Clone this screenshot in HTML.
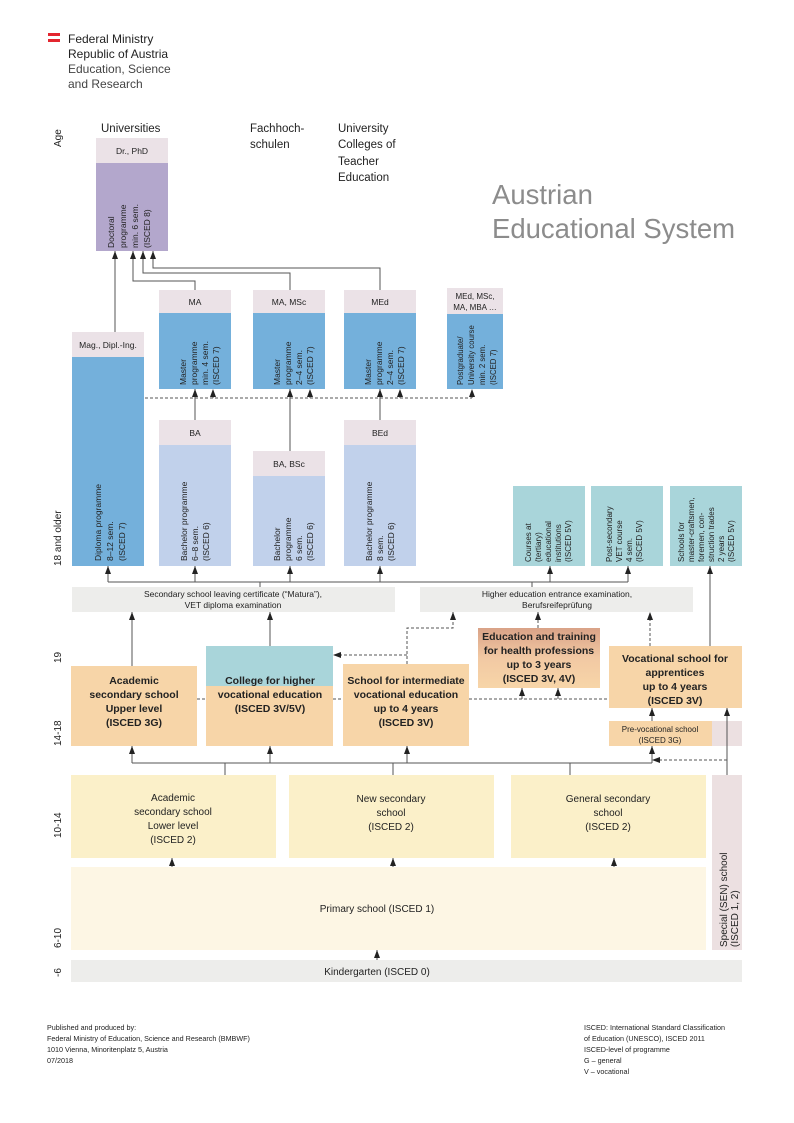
<!DOCTYPE html>
<html><head><meta charset="utf-8"><style>
html,body{margin:0;padding:0;background:#fff;}
svg{display:block;}
text{font-family:"Liberation Sans Narrow","Liberation Sans",sans-serif;fill:#222;}
.s{font-size:8.5px;}
.m{font-size:10px;}
.b{font-size:10.5px;font-weight:bold;}
</style></head><body>
<svg width="794" height="1123" viewBox="0 0 794 1123" xmlns="http://www.w3.org/2000/svg">
<defs>
<marker id="a" markerWidth="8" markerHeight="6" refX="8" refY="3" orient="auto" markerUnits="userSpaceOnUse" viewBox="0 0 8 6"><path d="M0,0 L8,3 L0,6 Z" fill="#222"/></marker>
<linearGradient id="hg" x1="0" y1="0" x2="0" y2="1"><stop offset="0" stop-color="#d9a287"/><stop offset="0.5" stop-color="#f2c9a3"/><stop offset="1" stop-color="#f7d5a8"/></linearGradient>
</defs>

<!-- logo -->
<rect x="48" y="33" width="12" height="3" fill="#e3262f"/>
<rect x="48" y="39" width="12" height="3" fill="#e3262f"/>
<text x="68" y="43" style="font-size:12px;">Federal Ministry</text>
<text x="68" y="58" style="font-size:12px;">Republic of Austria</text>
<text x="68" y="73" style="font-size:12px;fill:#444">Education, Science</text>
<text x="68" y="88" style="font-size:12px;fill:#444">and Research</text>

<!-- headings -->
<text transform="translate(61,147) rotate(-90)" class="m">Age</text>
<text x="101" y="132" style="font-size:11.5px">Universities</text>
<text x="250" y="132" style="font-size:11.5px">Fachhoch-</text>
<text x="250" y="148" style="font-size:11.5px">schulen</text>
<text x="338" y="132" style="font-size:11.5px">University</text>
<text x="338" y="148" style="font-size:11.5px">Colleges of</text>
<text x="338" y="165" style="font-size:11.5px">Teacher</text>
<text x="338" y="181" style="font-size:11.5px">Education</text>
<text x="492" y="204" style="font-size:27.5px;fill:#8c8c8c">Austrian</text>
<text x="492" y="238" style="font-size:27.5px;fill:#8c8c8c">Educational System</text>

<!-- age labels -->
<text transform="translate(61,566) rotate(-90)" class="m">18 and older</text>
<text transform="translate(61,663) rotate(-90)" class="m">19</text>
<text transform="translate(61,746) rotate(-90)" class="m">14-18</text>
<text transform="translate(61,838) rotate(-90)" class="m">10-14</text>
<text transform="translate(61,948) rotate(-90)" class="m">6-10</text>
<text transform="translate(61,977) rotate(-90)" class="m">-6</text>

<!-- Doctoral -->
<rect x="96" y="138" width="72" height="25" fill="#ebe2e7"/>
<rect x="96" y="163" width="72" height="88" fill="#b3a7cc"/>
<text x="132" y="154" text-anchor="middle" class="s">Dr., PhD</text>
<g class="s">
<text transform="translate(114,248) rotate(-90)">Doctoral</text>
<text transform="translate(126,248) rotate(-90)">programme</text>
<text transform="translate(138,248) rotate(-90)">min. 6 sem.</text>
<text transform="translate(150,248) rotate(-90)">(ISCED 8)</text>
</g>

<g stroke="#555" stroke-width="1" fill="none">
<path d="M115,332 V251" marker-end="url(#a)"/>
<path d="M195,290 V281 H133 V251" marker-end="url(#a)"/>
<path d="M290,290 V273 H143 V251" marker-end="url(#a)"/>
<path d="M380,290 V268 H153 V251" marker-end="url(#a)"/>
</g>

<!-- Masters -->
<rect x="159" y="290" width="72" height="23" fill="#ebe2e7"/><rect x="159" y="313" width="72" height="76" fill="#74b0db"/>
<text x="195" y="305" text-anchor="middle" class="s">MA</text>
<rect x="253" y="290" width="72" height="23" fill="#ebe2e7"/><rect x="253" y="313" width="72" height="76" fill="#74b0db"/>
<text x="289" y="305" text-anchor="middle" class="s">MA, MSc</text>
<rect x="344" y="290" width="72" height="23" fill="#ebe2e7"/><rect x="344" y="313" width="72" height="76" fill="#74b0db"/>
<text x="380" y="305" text-anchor="middle" class="s">MEd</text>
<rect x="447" y="288" width="56" height="26" fill="#ebe2e7"/><rect x="447" y="314" width="56" height="75" fill="#74b0db"/>
<text x="475" y="299" text-anchor="middle" style="font-size:8px">MEd, MSc,</text>
<text x="475" y="310" text-anchor="middle" style="font-size:8px">MA, MBA …</text>
<g class="s">
<text transform="translate(186,385) rotate(-90)">Master</text>
<text transform="translate(197,385) rotate(-90)">programme</text>
<text transform="translate(208,385) rotate(-90)">min. 4 sem.</text>
<text transform="translate(219,385) rotate(-90)">(ISCED 7)</text>
<text transform="translate(280,385) rotate(-90)">Master</text>
<text transform="translate(291,385) rotate(-90)">programme</text>
<text transform="translate(302,385) rotate(-90)">2–4 sem.</text>
<text transform="translate(313,385) rotate(-90)">(ISCED 7)</text>
<text transform="translate(371,385) rotate(-90)">Master</text>
<text transform="translate(382,385) rotate(-90)">programme</text>
<text transform="translate(393,385) rotate(-90)">2–4 sem.</text>
<text transform="translate(404,385) rotate(-90)">(ISCED 7)</text>
<text transform="translate(463,385) rotate(-90)" style="font-size:7.8px">Postgraduate/</text>
<text transform="translate(474,385) rotate(-90)" style="font-size:7.8px">University course</text>
<text transform="translate(485,385) rotate(-90)" style="font-size:7.8px">min. 2 sem.</text>
<text transform="translate(496,385) rotate(-90)" style="font-size:7.8px">(ISCED 7)</text>
</g>

<!-- Diploma -->
<rect x="72" y="332" width="72" height="25" fill="#ebe2e7"/>
<rect x="72" y="357" width="72" height="209" fill="#74b0db"/>
<text x="108" y="348" text-anchor="middle" class="s">Mag., Dipl.-Ing.</text>
<g class="s">
<text transform="translate(101,561) rotate(-90)">Diploma programme</text>
<text transform="translate(113,561) rotate(-90)">8–12 sem.</text>
<text transform="translate(125,561) rotate(-90)">(ISCED 7)</text>
</g>

<!-- Bachelors -->
<rect x="159" y="420" width="72" height="25" fill="#ebe2e7"/><rect x="159" y="445" width="72" height="121" fill="#c1d1eb"/>
<text x="195" y="436" text-anchor="middle" class="s">BA</text>
<rect x="253" y="451" width="72" height="25" fill="#ebe2e7"/><rect x="253" y="476" width="72" height="90" fill="#c1d1eb"/>
<text x="289" y="467" text-anchor="middle" class="s">BA, BSc</text>
<rect x="344" y="420" width="72" height="25" fill="#ebe2e7"/><rect x="344" y="445" width="72" height="121" fill="#c1d1eb"/>
<text x="380" y="436" text-anchor="middle" class="s">BEd</text>
<g class="s">
<text transform="translate(187,561) rotate(-90)">Bachelor programme</text>
<text transform="translate(198,561) rotate(-90)">6–8 sem.</text>
<text transform="translate(209,561) rotate(-90)">(ISCED 6)</text>
<text transform="translate(280,561) rotate(-90)">Bachelor</text>
<text transform="translate(291,561) rotate(-90)">programme</text>
<text transform="translate(302,561) rotate(-90)">6 sem.</text>
<text transform="translate(313,561) rotate(-90)">(ISCED 6)</text>
<text transform="translate(372,561) rotate(-90)">Bachelor programme</text>
<text transform="translate(383,561) rotate(-90)">8 sem.</text>
<text transform="translate(394,561) rotate(-90)">(ISCED 6)</text>
</g>

<g stroke="#555" stroke-width="1" fill="none">
<path d="M195,420 V389" marker-end="url(#a)"/>
<path d="M290,451 V389" marker-end="url(#a)"/>
<path d="M380,420 V389" marker-end="url(#a)"/>
</g>
<g stroke="#555" stroke-width="1" fill="none" stroke-dasharray="3,2">
<path d="M145,398 H472"/>
<path d="M213,398 V389" marker-end="url(#a)"/>
<path d="M310,398 V389" marker-end="url(#a)"/>
<path d="M400,398 V389" marker-end="url(#a)"/>
<path d="M472,398 V389" marker-end="url(#a)"/>
</g>

<!-- Teal tertiary -->
<rect x="513" y="486" width="72" height="80" fill="#a9d5da"/>
<rect x="591" y="486" width="72" height="80" fill="#a9d5da"/>
<rect x="670" y="486" width="72" height="80" fill="#a9d5da"/>
<g style="font-size:8px">
<text transform="translate(531,562) rotate(-90)">Courses at</text>
<text transform="translate(541,562) rotate(-90)">(tertiary)</text>
<text transform="translate(551,562) rotate(-90)">educational</text>
<text transform="translate(561,562) rotate(-90)">institutions</text>
<text transform="translate(571,562) rotate(-90)">(ISCED 5V)</text>
<text transform="translate(612,562) rotate(-90)">Post-secondary</text>
<text transform="translate(622,562) rotate(-90)">VET course</text>
<text transform="translate(632,562) rotate(-90)">4 sem.</text>
<text transform="translate(642,562) rotate(-90)">(ISCED 5V)</text>
<text transform="translate(684,562) rotate(-90)">Schools for</text>
<text transform="translate(694,562) rotate(-90)">master-craftsmen,</text>
<text transform="translate(704,562) rotate(-90)">foremen, con-</text>
<text transform="translate(714,562) rotate(-90)">struction trades</text>
<text transform="translate(724,562) rotate(-90)">2 years</text>
<text transform="translate(734,562) rotate(-90)">(ISCED 5V)</text>
</g>

<g stroke="#555" stroke-width="1" fill="none">
<path d="M108,582 H628"/>
<path d="M108,582 V566" marker-end="url(#a)"/>
<path d="M195,582 V566" marker-end="url(#a)"/>
<path d="M290,582 V566" marker-end="url(#a)"/>
<path d="M380,582 V566" marker-end="url(#a)"/>
<path d="M550,582 V566" marker-end="url(#a)"/>
<path d="M628,582 V566" marker-end="url(#a)"/>
<path d="M260,587 V582"/><path d="M532,587 V582"/>
<path d="M710,646 V566" marker-end="url(#a)"/>
</g>
<rect x="72" y="587" width="323" height="25" fill="#ededeb"/>
<text x="233" y="597" text-anchor="middle" class="s">Secondary school leaving certificate (“Matura”),</text>
<text x="233" y="608" text-anchor="middle" class="s">VET diploma examination</text>
<rect x="420" y="587" width="273" height="25" fill="#ededeb"/>
<text x="557" y="597" text-anchor="middle" class="s">Higher education entrance examination,</text>
<text x="557" y="608" text-anchor="middle" class="s">Berufsreifeprüfung</text>

<!-- upper secondary -->
<rect x="71" y="666" width="126" height="80" fill="#f7d5a8"/>
<text x="134" y="684" text-anchor="middle" class="b">Academic</text>
<text x="134" y="698" text-anchor="middle" class="b">secondary school</text>
<text x="134" y="712" text-anchor="middle" class="b">Upper level</text>
<text x="134" y="726" text-anchor="middle" class="b">(ISCED 3G)</text>
<rect x="206" y="646" width="127" height="40" fill="#a9d5da"/>
<rect x="206" y="686" width="127" height="60" fill="#f7d5a8"/>
<text x="270" y="684" text-anchor="middle" class="b">College for higher</text>
<text x="270" y="698" text-anchor="middle" class="b">vocational education</text>
<text x="270" y="712" text-anchor="middle" class="b">(ISCED 3V/5V)</text>
<rect x="343" y="664" width="126" height="82" fill="#f7d5a8"/>
<text x="406" y="684" text-anchor="middle" class="b">School for intermediate</text>
<text x="406" y="698" text-anchor="middle" class="b">vocational education</text>
<text x="406" y="712" text-anchor="middle" class="b">up to 4 years</text>
<text x="406" y="726" text-anchor="middle" class="b">(ISCED 3V)</text>
<rect x="478" y="628" width="122" height="60" fill="url(#hg)"/>
<text x="539" y="640" text-anchor="middle" class="b">Education and training</text>
<text x="539" y="654" text-anchor="middle" class="b">for health professions</text>
<text x="539" y="668" text-anchor="middle" class="b">up to 3 years</text>
<text x="539" y="682" text-anchor="middle" class="b">(ISCED 3V, 4V)</text>
<rect x="609" y="646" width="133" height="62" fill="#f7d5a8"/>
<text x="675" y="662" text-anchor="middle" class="b">Vocational school for</text>
<text x="675" y="676" text-anchor="middle" class="b">apprentices</text>
<text x="675" y="690" text-anchor="middle" class="b">up to 4 years</text>
<text x="675" y="704" text-anchor="middle" class="b">(ISCED 3V)</text>
<rect x="609" y="721" width="103" height="25" fill="#f7d5a8"/>
<rect x="712" y="721" width="30" height="25" fill="#ece0e1"/>
<text x="660" y="732" text-anchor="middle" style="font-size:8px">Pre-vocational school</text>
<text x="660" y="743" text-anchor="middle" style="font-size:8px">(ISCED 3G)</text>

<g stroke="#555" stroke-width="1" fill="none">
<path d="M132,666 V612" marker-end="url(#a)"/>
<path d="M270,646 V612" marker-end="url(#a)"/>
<path d="M652,721 V708" marker-end="url(#a)"/>
<path d="M727,721 V708" marker-end="url(#a)"/>
<path d="M727,775 V721"/>
<path d="M132,763 H652"/>
<path d="M132,763 V746" marker-end="url(#a)"/>
<path d="M270,763 V746" marker-end="url(#a)"/>
<path d="M407,763 V746" marker-end="url(#a)"/>
<path d="M652,763 V746" marker-end="url(#a)"/>
<path d="M225,775 V763"/><path d="M393,775 V763"/><path d="M570,775 V763"/>
</g>
<g stroke="#555" stroke-width="1" fill="none" stroke-dasharray="3,2">
<path d="M407,664 V628 H453 V612" marker-end="url(#a)"/>
<path d="M407,655 H333" marker-end="url(#a)"/>
<path d="M538,628 V612" marker-end="url(#a)"/>
<path d="M650,646 V612" marker-end="url(#a)"/>
<path d="M197,699 H206"/><path d="M333,699 H343"/>
<path d="M469,699 H609"/>
<path d="M522,699 V688" marker-end="url(#a)"/>
<path d="M558,699 V688" marker-end="url(#a)"/>
<path d="M727,760 H652" marker-end="url(#a)"/>
</g>

<!-- lower secondary -->
<rect x="71" y="775" width="205" height="83" fill="#fbf0c9"/>
<text x="173" y="801" text-anchor="middle" class="m">Academic</text>
<text x="173" y="815" text-anchor="middle" class="m">secondary school</text>
<text x="173" y="829" text-anchor="middle" class="m">Lower level</text>
<text x="173" y="843" text-anchor="middle" class="m">(ISCED 2)</text>
<rect x="289" y="775" width="205" height="83" fill="#fbf0c9"/>
<text x="391" y="802" text-anchor="middle" class="m">New secondary</text>
<text x="391" y="816" text-anchor="middle" class="m">school</text>
<text x="391" y="830" text-anchor="middle" class="m">(ISCED 2)</text>
<rect x="511" y="775" width="195" height="83" fill="#fbf0c9"/>
<text x="608" y="802" text-anchor="middle" class="m">General secondary</text>
<text x="608" y="816" text-anchor="middle" class="m">school</text>
<text x="608" y="830" text-anchor="middle" class="m">(ISCED 2)</text>
<rect x="712" y="775" width="30" height="175" fill="#ece0e1"/>
<text transform="translate(727,947) rotate(-90)" class="m">Special (SEN) school</text>
<text transform="translate(738,947) rotate(-90)" class="m">(ISCED 1, 2)</text>

<rect x="71" y="867" width="635" height="83" fill="#fdf6e4"/>
<text x="377" y="912" text-anchor="middle" class="m">Primary school (ISCED 1)</text>
<rect x="71" y="960" width="671" height="22" fill="#ededeb"/>
<text x="377" y="975" text-anchor="middle" class="m">Kindergarten (ISCED 0)</text>
<g stroke="#555" stroke-width="1" fill="none">
<path d="M172,867 V858" marker-end="url(#a)"/>
<path d="M393,867 V858" marker-end="url(#a)"/>
<path d="M614,867 V858" marker-end="url(#a)"/>
<path d="M377,960 V950" marker-end="url(#a)"/>
</g>

<!-- footer -->
<g style="font-size:7.2px">
<text x="47" y="1030">Published and produced by:</text>
<text x="47" y="1041">Federal Ministry of Education, Science and Research (BMBWF)</text>
<text x="47" y="1052">1010 Vienna, Minoritenplatz 5, Austria</text>
<text x="47" y="1063">07/2018</text>
<text x="584" y="1030">ISCED: International Standard Classification</text>
<text x="584" y="1041">of Education (UNESCO), ISCED 2011</text>
<text x="584" y="1052">ISCED-level of programme</text>
<text x="584" y="1063">G – general</text>
<text x="584" y="1074">V – vocational</text>
</g>
</svg>
</body></html>
